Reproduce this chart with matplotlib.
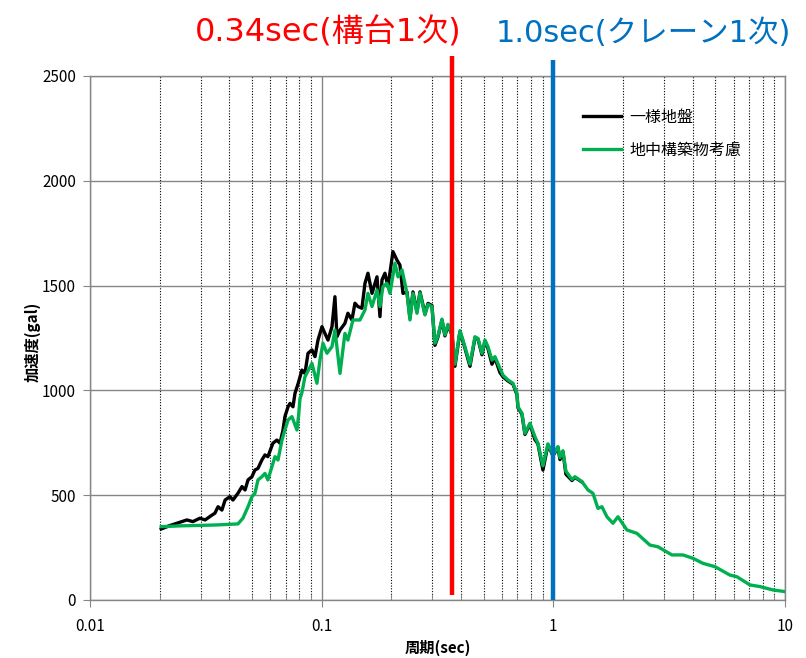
import matplotlib
matplotlib.use("Agg")
import matplotlib.pyplot as plt
from matplotlib.ticker import FixedLocator, FixedFormatter, LogLocator, NullFormatter

plt.rcParams['font.family'] = ['Noto Sans CJK JP', 'DejaVu Sans']

# ---- data (period [sec], acceleration [gal]) ----
green_T = [0.0203, 0.025, 0.030, 0.035, 0.0435, 0.0457, 0.0481, 0.0500, 0.0515, 0.0531,
           0.0552, 0.0569, 0.0586, 0.0610, 0.0629, 0.0648, 0.0674, 0.0694, 0.0716, 0.0744,
           0.0782, 0.0795, 0.0806, 0.0822, 0.0847, 0.0908, 0.0954, 0.0983, 0.1013, 0.1054,
           0.1108, 0.1141, 0.1200, 0.1260, 0.1298, 0.1365, 0.1463, 0.1538, 0.1584, 0.1649,
           0.1733, 0.1785, 0.1839, 0.1913, 0.1972, 0.2072, 0.2135, 0.2222, 0.2335, 0.2405,
           0.2478, 0.2579, 0.2657, 0.2792, 0.2877, 0.2992, 0.3083, 0.3176, 0.3305, 0.3405,
           0.3508, 0.3651, 0.3761, 0.3953, 0.4072, 0.4367, 0.4589, 0.4728, 0.4919, 0.5069,
           0.5222, 0.5433, 0.5598, 0.5883, 0.6061, 0.6369, 0.6693, 0.6965, 0.7034, 0.7321,
           0.7542, 0.7925, 0.8329, 0.8580, 0.9017, 0.9478, 0.9961, 1.0467, 1.0679, 1.1001,
           1.1333, 1.2030, 1.2393, 1.3286, 1.4109, 1.4826, 1.5582, 1.6212, 1.7038, 1.8086,
           1.9006, 2.0785, 2.2950, 2.6118, 2.8284, 3.2509, 3.6257, 4.0040, 4.4219, 4.9831,
           5.7834, 6.2004, 7.0550, 7.7934, 8.8670, 10.0]
green_v = [350, 354, 356, 358, 363, 390, 445, 493, 509, 573,
           588, 604, 573, 636, 684, 668, 763, 811, 859, 875,
           811, 880, 960, 990, 1065, 1129, 1034, 1145, 1225, 1177,
           1209, 1288, 1081, 1272, 1240, 1336, 1336, 1384, 1463, 1400,
           1479, 1400, 1495, 1511, 1463, 1607, 1542, 1575, 1463, 1336,
           1463, 1368, 1465, 1360, 1410, 1400, 1225, 1260, 1340, 1265,
           1315, 1270, 1125, 1285, 1240, 1125, 1256, 1248, 1177, 1240,
           1209, 1145, 1161, 1105, 1073, 1050, 1034, 986, 922, 891,
           795, 843, 779, 748, 640, 745, 692, 732, 680, 712,
           615, 575, 588, 565, 525, 509, 437, 445, 397, 366,
           397, 334, 318, 262, 254, 215, 215, 199, 175, 159,
           119, 111, 72, 64, 48, 40]

black_T = [0.0203, 0.0221, 0.0237, 0.0262, 0.0278, 0.0298, 0.0314, 0.0336, 0.0346, 0.0357,
           0.0371, 0.0383, 0.0402, 0.0414, 0.0435, 0.0453, 0.0467, 0.0481, 0.0500, 0.0515,
           0.0531, 0.0552, 0.0569, 0.0586, 0.0616, 0.0641, 0.0661, 0.0681, 0.0694, 0.0716,
           0.0730, 0.0752, 0.0767, 0.0790, 0.0822, 0.0847, 0.0873, 0.0908, 0.0936, 0.0964,
           0.1003, 0.1033, 0.1065, 0.1108, 0.1141, 0.1164, 0.1200, 0.1260, 0.1298, 0.1351,
           0.1392, 0.1434, 0.1492, 0.1538, 0.1584, 0.1649, 0.1733, 0.1785, 0.1821, 0.1876,
           0.1933, 0.2031, 0.2113, 0.2177, 0.2244, 0.2335, 0.2405,
           0.2478, 0.2579, 0.2657, 0.2792, 0.2877, 0.2992, 0.3083, 0.3176, 0.3305, 0.3405,
           0.3508, 0.3651, 0.3761, 0.3953, 0.4072, 0.4367, 0.4589, 0.4728, 0.4919, 0.5069,
           0.5222, 0.5433, 0.5598, 0.5883, 0.6061, 0.6369, 0.6693, 0.6965, 0.7034, 0.7321,
           0.7542, 0.7925, 0.8329, 0.8580, 0.9017, 0.9478, 0.9961, 1.0467, 1.0679, 1.1001,
           1.1333, 1.2030, 1.2393, 1.3286]
black_v = [339, 355, 366, 382, 374, 390, 382, 405, 414, 445,
           429, 477, 493, 477, 509, 541, 525, 573, 588, 620,
           628, 668, 692, 684, 748, 763, 748, 811, 875, 922,
           938, 922, 986, 1030, 1097, 1081, 1177, 1193, 1161, 1240,
           1304, 1272, 1240, 1304, 1447, 1256, 1288, 1320, 1368, 1336,
           1416, 1400, 1392, 1511, 1559, 1463, 1542, 1352, 1527, 1559,
           1495, 1662, 1622, 1598, 1463, 1470, 1345,
           1470, 1375, 1470, 1365, 1415, 1405, 1215, 1255, 1335, 1260,
           1310, 1265, 1115, 1280, 1235, 1115, 1250, 1245, 1170, 1235,
           1200, 1125, 1155, 1085, 1065, 1045, 1030, 980, 918, 886,
           790, 838, 765, 745, 620, 740, 688, 728, 670, 708,
           600, 570, 585, 563]

x_ticks = [0.01, 0.1, 1, 10]
x_labels = ['0.01', '0.1', '1', '10']
y_ticks = [0, 500, 1000, 1500, 2000, 2500]

mark_T = [0.365, 1.0]
mark_colors = ['#FF0000', '#0070C0']
mark_texts = ['0.34sec(構台1次)', '1.0sec(クレーン1次)']

legend_labels = ['一様地盤', '地中構築物考慮']

# ---- figure ----
fig = plt.figure(figsize=(8.06, 6.58), dpi=100)
ax = fig.add_axes([90/806, 58/658, 695/806, 524/658])

ax.plot(black_T, black_v, color='black', lw=2.4, zorder=3, label=legend_labels[0],
        solid_joinstyle='round')
ax.plot(green_T, green_v, color='#00B050', lw=2.4, zorder=4, label=legend_labels[1],
        solid_joinstyle='round')

ax.set_xscale('log')
ax.set_xlim(0.01, 10)
ax.set_ylim(0, 2500)
ax.xaxis.set_major_locator(FixedLocator(x_ticks))
ax.xaxis.set_major_formatter(FixedFormatter(x_labels))
ax.xaxis.set_minor_locator(LogLocator(base=10, subs=range(2, 10)))
ax.xaxis.set_minor_formatter(NullFormatter())
ax.set_yticks(y_ticks)

ax.grid(which='major', color='#868686', lw=1.0, ls='-')
ax.grid(which='minor', axis='x', color='black', lw=0.8, ls=(0, (1, 1.5)))
ax.set_axisbelow(True)

for s in ax.spines.values():
    s.set_color('#868686')
    s.set_linewidth(1.0)

ax.tick_params(axis='both', which='major', labelsize=11, color='#868686',
               length=5, direction='out', pad=5)
ax.tick_params(axis='x', which='minor', length=4, direction='in', color='#868686')
ax.tick_params(axis='x', which='major', pad=8)

# vertical marker lines extending above the plot area
ax.plot([mark_T[0], mark_T[0]], [24, 2595], color=mark_colors[0], lw=3.2,
        zorder=6, clip_on=False, solid_capstyle='butt')
ax.plot([mark_T[1], mark_T[1]], [0, 2576], color=mark_colors[1], lw=3.2,
        zorder=6, clip_on=False, solid_capstyle='butt')

title_family = ['DejaVu Sans', 'Noto Sans CJK JP']
fig.text(195/806, 1 - 33/658, mark_texts[0], color=mark_colors[0], fontsize=23,
         family=title_family, ha='left', va='center')
fig.text(496/806, 1 - 33/658, mark_texts[1], color=mark_colors[1], fontsize=22,
         family=title_family, ha='left', va='center')

leg = ax.legend(loc='center left', bbox_to_anchor=(0.70, 0.89), frameon=False,
                fontsize=11.5, handlelength=2.4, handletextpad=0.5, labelspacing=1.0,
                borderaxespad=0)

fig.text(33/806, 1 - 342/658, '加速度(gal)', rotation=90, fontsize=11,
         fontweight='bold', ha='center', va='center')
fig.text(438/806, 1 - 648/658, '周期(sec)', fontsize=11, fontweight='bold',
         ha='center', va='center')

fig.savefig('out.png', dpi=100)
